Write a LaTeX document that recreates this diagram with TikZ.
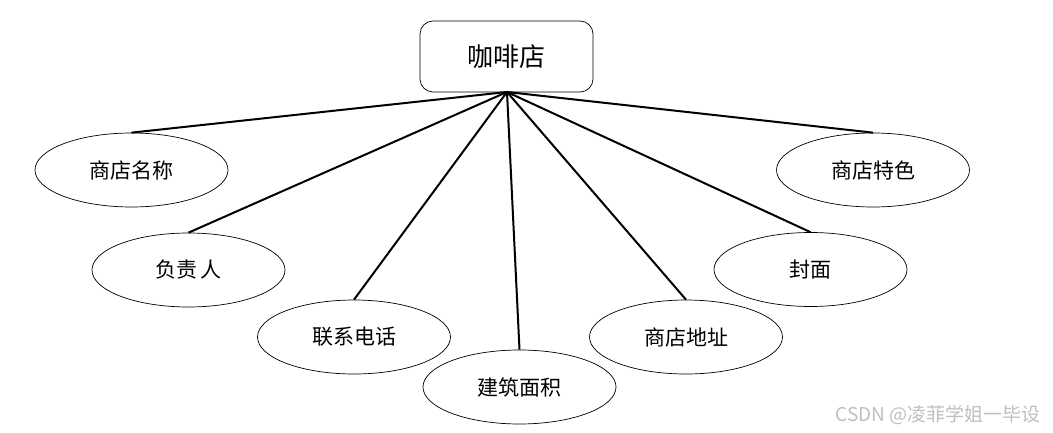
\documentclass[tikz,border=0pt]{standalone}
\usepackage{fontspec}
\setmainfont{Noto Sans CJK SC}
\newfontfamily\cjk{Noto Sans CJK SC}
\usetikzlibrary{shapes.geometric}
\begin{document}
\begin{tikzpicture}[x=1pt,y=-1pt,
  attr/.style={ellipse,draw=black,line width=0.7pt,minimum width=193pt,minimum height=74pt,inner sep=0pt,font=\cjk\fontsize{21}{25}\selectfont},
  ent/.style={rectangle,rounded corners=13pt,draw=black,line width=0.7pt,minimum width=173pt,minimum height=71pt,inner sep=0pt,font=\cjk\fontsize{26}{31}\selectfont},
  link/.style={line width=2pt,black}]
\useasboundingbox (0,0) rectangle (1053,433);
\node[ent] (shop) at (506.5,56.5) {咖啡店};
\coordinate (hub) at (507,92);
\node[attr] (name) at (131.5,170) {商店名称};
\node[attr] (boss) at (188.5,270) {负责\,人};
\node[attr] (tel) at (354,337) {联系电话};
\node[attr] (area) at (519.5,387) {建筑面积};
\node[attr] (addr) at (686,337) {商店地址};
\node[attr] (cover) at (810.5,269.5) {封面};
\node[attr] (feat) at (873,170) {商店特色};
\foreach \n in {name,boss,tel,area,addr,cover,feat}
  \draw[link] (hub) -- (\n.north);
\node[text=black!25,font=\cjk\fontsize{19}{22}\selectfont,anchor=east,inner sep=0pt] (wm) at (1041,415) {CSDN @凌菲学姐一毕设};
\end{tikzpicture}
\end{document}
